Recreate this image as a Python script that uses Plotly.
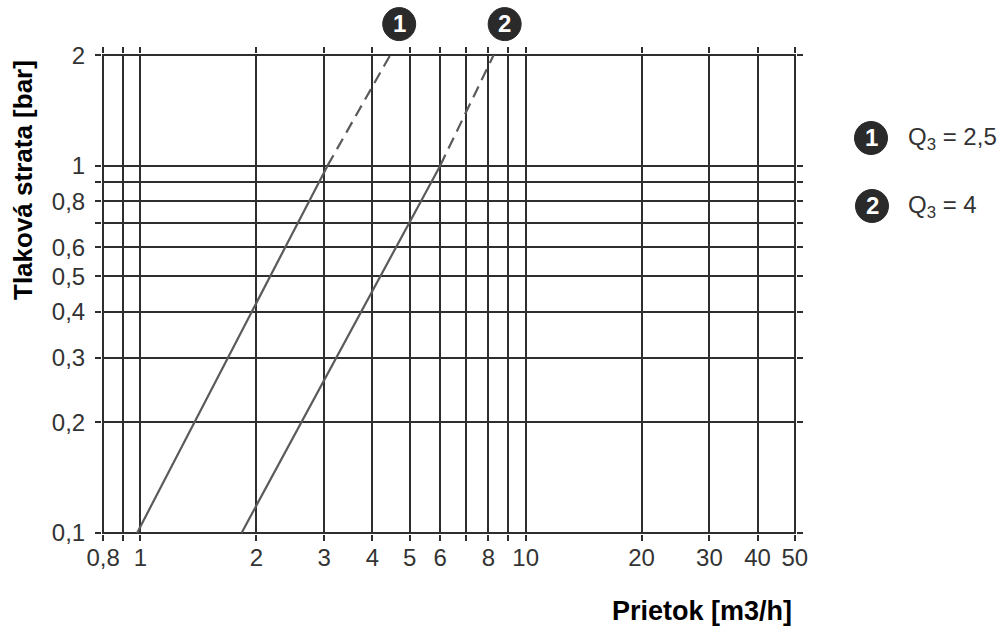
import math
import plotly.graph_objects as go

# ---- data ----
x_ticks = [0.8, 1, 2, 3, 4, 5, 6, 8, 10, 20, 30, 40, 50]
x_labels = ["0,8", "1", "2", "3", "4", "5", "6", "8", "10", "20", "30", "40", "50"]
x_minor = [0.9, 7, 9]
y_ticks = [0.1, 0.2, 0.3, 0.4, 0.5, 0.6, 0.8, 1, 2]
y_labels = ["0,1", "0,2", "0,3", "0,4", "0,5", "0,6", "0,8", "1", "2"]
y_minor = [0.7, 0.9]

# curve 1 (Q3 = 2,5): solid part, then dashed extension
s1_q_solid = [0.98, 3.06]
s1_dp_solid = [0.1, 1.0]
s1_q_dash = [3.06, 4.45]
s1_dp_dash = [1.0, 2.0]

# curve 2 (Q3 = 4)
s2_q_solid = [1.83, 6.0]
s2_dp_solid = [0.1, 1.0]
s2_q_dash = [6.0, 8.26]
s2_dp_dash = [1.0, 2.0]

series_ids = ["1", "2"]
series_names = ["Q<sub>3</sub> = 2,5", "Q<sub>3</sub> = 4"]

x_title = "Prietok [m3/h]"
y_title = "Tlaková strata [bar]"

# ---- styling ----
GRID = "#2e2e2e"
LINE = "#5a5a5a"
TXT = "#333333"
BADGE = "#2a2a2a"
FONT = "Liberation Sans, Arial, sans-serif"

W, H = 1005, 626
ML, MR, MT, MB = 102, 209, 54, 92
PW, PH = W - ML - MR, H - MT - MB

fig = go.Figure()
for qs, ds, qd, dd in [(s1_q_solid, s1_dp_solid, s1_q_dash, s1_dp_dash),
                       (s2_q_solid, s2_dp_solid, s2_q_dash, s2_dp_dash)]:
    fig.add_trace(go.Scatter(x=qs, y=ds, mode="lines",
                             line=dict(color=LINE, width=2.2), showlegend=False,
                             hoverinfo="skip"))
    fig.add_trace(go.Scatter(x=qd, y=dd, mode="lines",
                             line=dict(color=LINE, width=2.2, dash="12px,7px"),
                             showlegend=False, hoverinfo="skip"))

eps = 0.003
xr = [math.log10(min(x_ticks)) - eps, math.log10(max(x_ticks)) + eps]
yr = [math.log10(min(y_ticks)) - eps, math.log10(max(y_ticks)) + eps]

common = dict(type="log", showgrid=True, gridcolor=GRID, gridwidth=2,
              ticks="outside", ticklen=6, tickwidth=2, tickcolor=GRID,
              mirror="ticks", showline=False, zeroline=False,
              tickfont=dict(family=FONT, size=24, color=TXT))
minor_style = dict(tickmode="array", showgrid=True, gridcolor=GRID, gridwidth=2,
                   ticks="outside", ticklen=6, tickwidth=2, tickcolor=GRID)

fig.update_xaxes(range=xr, tickmode="array", tickvals=x_ticks, ticktext=x_labels,
                 minor=dict(tickvals=x_minor, **minor_style),
                 ticklabelstandoff=-4, **common)
fig.update_yaxes(range=yr, tickmode="array", tickvals=y_ticks, ticktext=y_labels,
                 minor=dict(tickvals=y_minor, **minor_style),
                 ticklabelstandoff=5, **common)

def px_to_paper(px, py):
    return (px - ML) / PW, (H - MB - py) / PH

def data_to_paper(q, dp):
    return ((math.log10(q) - xr[0]) / (xr[1] - xr[0]),
            (math.log10(dp) - yr[0]) / (yr[1] - yr[0]))

ann = []
shapes = []
R = 16.5

def badge(px_x, px_y, label, dx=0, dy=0):
    shapes.append(dict(type="circle", xref="paper", yref="paper",
                       xsizemode="pixel", ysizemode="pixel",
                       xanchor=px_x, yanchor=px_y,
                       x0=dx - R, x1=dx + R, y0=dy - R, y1=dy + R,
                       fillcolor=BADGE, line=dict(color=BADGE, width=1)))
    ann.append(dict(text=f"<b>{label}</b>", x=px_x, y=px_y, xref="paper", yref="paper",
                    xshift=dx, yshift=dy + 1, showarrow=False,
                    xanchor="center", yanchor="middle",
                    font=dict(family=FONT, size=24, color="white")))

# axis titles
x, y = px_to_paper(23, 180)
ann.append(dict(text=f"<b>{y_title}</b>", x=x, y=y, xref="paper", yref="paper",
                textangle=-90, showarrow=False, xanchor="center", yanchor="middle",
                font=dict(family=FONT, size=26, color="#000")))
x, y = px_to_paper(702, 611)
ann.append(dict(text=f"<b>{x_title}</b>", x=x, y=y, xref="paper", yref="paper",
                showarrow=False, xanchor="center", yanchor="middle",
                font=dict(family=FONT, size=27, color="#000")))

# numbered badges above the line ends
for qd, dd, sid, xs in [(s1_q_dash, s1_dp_dash, series_ids[0], 9),
                        (s2_q_dash, s2_dp_dash, series_ids[1], 11)]:
    px_x, px_y = data_to_paper(qd[-1], dd[-1])
    badge(px_x, px_y, sid, dx=xs, dy=31)

# key on the right
for (cx, cy), sid, name in [((871, 138), series_ids[0], series_names[0]),
                            ((872, 206), series_ids[1], series_names[1])]:
    x, y = px_to_paper(cx, cy)
    badge(x, y, sid)
    x, y = px_to_paper(906, cy)
    ann.append(dict(text=name, x=x, y=y, xref="paper", yref="paper", showarrow=False,
                    xanchor="left", yanchor="middle",
                    font=dict(family=FONT, size=24, color=TXT)))

fig.update_layout(width=W, height=H, autosize=False,
                  margin=dict(l=ML, r=MR, t=MT, b=MB),
                  paper_bgcolor="white", plot_bgcolor="white",
                  annotations=ann, shapes=shapes, showlegend=False)

fig.write_html("out.html", config={"displayModeBar": False},
               post_script="document.body.style.margin='0';document.body.style.overflow='hidden';")
